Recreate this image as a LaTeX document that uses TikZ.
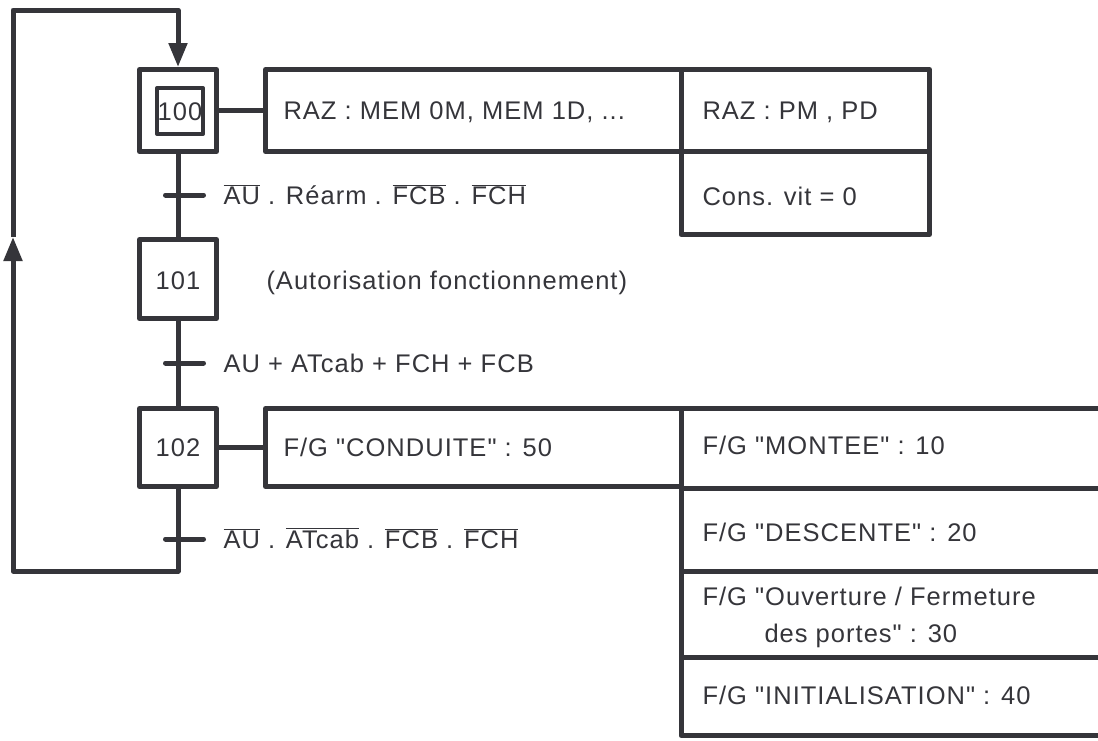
\documentclass[tikz,border=0pt]{standalone}
\usepackage{fontspec}
\setmainfont[LetterSpace=4,Ligatures=TeXOff]{Liberation Sans}
\usetikzlibrary{arrows.meta}
\definecolor{ink}{HTML}{35353A}
\newcommand{\ovl}[1]{$\overline{\mbox{#1}}$}
\begin{document}
\begin{tikzpicture}[x=1pt,y=-1pt,line width=5pt,draw=ink,text=ink,line join=round,
  font=\fontsize{25.5}{30}\selectfont,
  stepbox/.style={draw,line width=5pt,minimum width=77pt,inner sep=0pt},
  actbox/.style={draw,line width=5pt,inner sep=0pt},
  lbl/.style={anchor=base west,inner sep=0pt},
  num/.style={anchor=base,inner sep=0pt},
  tbar/.style={line width=5pt,line cap=round},
  arr/.style={-{Triangle[length=24pt,width=18pt]}}]
\useasboundingbox (0,0) rectangle (1098,740);
% steps
\node[stepbox,minimum height=82pt] (s100) at (178,110.5) {};
\node[draw,line width=4pt,minimum width=46pt,minimum height=46pt,inner sep=0pt] (s100i) at (180,111) {};
\node[num] (n100) at (180,120) {100};
\node[stepbox,minimum height=79pt] (s101) at (178,279) {};
\node[num] (n101) at (178,289) {101};
\node[stepbox,minimum height=78pt] (s102) at (178,447.5) {};
\node[num] (n102) at (178,456.5) {102};
% actions of step 100
\node[actbox,minimum width=415.5pt,minimum height=82pt] (a100) at (473.25,110.5) {};
\node[actbox,minimum width=248.5pt,minimum height=82pt] (b100) at (805.25,110.5) {};
\node[actbox,minimum width=248.5pt,minimum height=83pt] (c100) at (805.25,193) {};
\node[lbl] (ta100) at (281,119) {RAZ : MEM 0M, MEM 1D, ...};
\node[lbl] (tb100) at (700,119) {RAZ : PM , PD};
\node[lbl] (tc100) at (700,205) {Cons. vit = 0};
% action of step 101
\node[lbl] (ta101) at (264,289) {(Autorisation fonctionnement)};
% actions of step 102
\node[actbox,minimum width=415.5pt,minimum height=78pt] (a102) at (473.25,447.5) {};
\node[actbox,minimum width=429pt,minimum height=80pt] (r1) at (895.5,448.5) {};
\node[actbox,minimum width=429pt,minimum height=82.5pt] (r2) at (895.5,529.75) {};
\node[actbox,minimum width=429pt,minimum height=86pt] (r3) at (895.5,614) {};
\node[actbox,minimum width=429pt,minimum height=78.5pt] (r4) at (895.5,696.25) {};
\node[lbl] (ta102) at (281,456.5) {F/G "CONDUITE" : 50};
\node[lbl] (tr1) at (700,454) {F/G "MONTEE" : 10};
\node[lbl] (tr2) at (700,541) {F/G "DESCENTE" : 20};
\node[lbl] (tr3) at (700,605) {F/G "Ouverture / Fermeture};
\node[lbl] (tr3b) at (762,642) {des portes" : 30};
\node[lbl] (tr4) at (700,704) {F/G "INITIALISATION" : 40};
% links step -> action
\draw (s100.east) -- (a100.west);
\draw (s102.east) -- (a102.west);
% transitions
\coordinate (t1) at (178,195);
\coordinate (t2) at (178,363);
\coordinate (t3) at (178,539);
\draw (s100.south) -- (s101.north);
\draw (s101.south) -- (s102.north);
\draw[tbar] ([xshift=-12.5pt]t1) -- ([xshift=25.5pt]t1);
\draw[tbar] ([xshift=-12.5pt]t2) -- ([xshift=25.5pt]t2);
\draw[tbar] ([xshift=-12.5pt]t3) -- ([xshift=25.5pt]t3);
\node[lbl] (l1) at (221,204) {\ovl{AU} . Réarm . \ovl{FCB} . \ovl{FCH}};
\node[lbl] (l2) at (221,372) {AU + ATcab + FCH + FCB};
\node[lbl] (l3) at (221,548) {\ovl{AU} . \ovl{ATcab} . \ovl{FCB} . \ovl{FCH}};
% loop back
\coordinate (br) at (178,571);
\coordinate (bl) at (13,571);
\coordinate (up) at (13,237);
\coordinate (tl) at (13,10);
\coordinate (tr) at (178,10);
\draw[arr] (s102.south) -- (br) -- (bl) -- (up);
\draw[arr] (up) -- (tl) -- (tr) -- (s100.north);
\end{tikzpicture}
\end{document}
